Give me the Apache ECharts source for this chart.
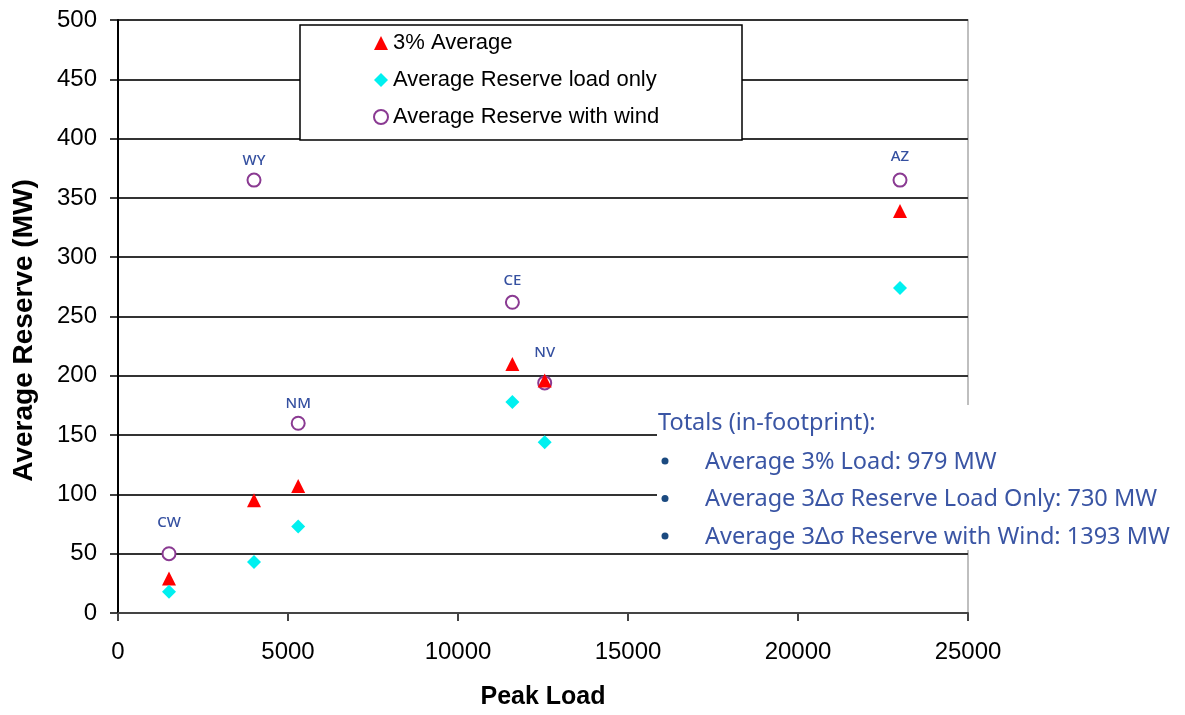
<!DOCTYPE html>
<html>
<head>
<meta charset="utf-8">
<script src="https://cdn.jsdelivr.net/npm/echarts@6/dist/echarts.min.js"></script>
<style>
  html, body { margin: 0; padding: 0; background: #fff; }
  #chart { width: 1185px; height: 715px; }
</style>
</head>
<body>
<div id="chart"></div>
<script>
const states = ['CW', 'WY', 'NM', 'CE', 'NV', 'AZ']
const peakLoad = [1500, 4000, 5300, 11600, 12550, 23000]
const avg3pct = [29, 95, 107, 210, 196, 339]
const loadOnly = [18, 43, 73, 178, 144, 274]
const withWind = [50, 365, 160, 262, 194, 365]

const totalsTitle = 'Totals (in-footprint):'
const totalsLines = [
  'Average 3% Load: 979 MW',
  'Average 3\u0394\u03c3 Reserve Load Only: 730 MW',
  'Average 3\u0394\u03c3 Reserve with Wind: 1393 MW',
]

// how far each state label sits above its circle
const labelDistance = { CW: 16, WY: 4, NM: 5, CE: 7, NV: 15, AZ: 8 }

const tickFont = { fontFamily: 'Liberation Sans', fontSize: 24, color: '#000' }
const labelBlue = '#3550a0'
const boxBlue = '#3a55a4'
const boxFont = '23.5px "Noto Sans"'

function pairs(ys) {
  return peakLoad.map((x, i) => [x, ys[i]])
}

const chart = echarts.init(document.getElementById('chart'))

const option = {
  animation: false,
  grid: {
    left: 118, right: 217, top: 20, bottom: 102,
    show: true, borderColor: '#aaa', borderWidth: 1.5,
  },
  xAxis: {
    type: 'value', min: 0, max: 25000, interval: 5000,
    name: 'Peak Load', nameLocation: 'middle', nameGap: 72,
    nameTextStyle: { fontFamily: 'Liberation Sans', fontSize: 25, fontWeight: 'bold', color: '#000' },
    axisLine: { show: true, lineStyle: { color: '#444', width: 2 } },
    axisTick: { show: true, length: 8, lineStyle: { color: '#444', width: 2 } },
    axisLabel: { ...tickFont, margin: 27, formatter: v => String(v) },
    splitLine: { show: false },
  },
  yAxis: {
    type: 'value', min: 0, max: 500, interval: 50,
    name: 'Average Reserve (MW)', nameLocation: 'middle', nameGap: 80, nameRotate: 90,
    nameTextStyle: {
      fontFamily: 'Liberation Sans', fontSize: 28, fontWeight: 'bold', color: '#000',
      padding: [0, 28, 0, 0],
    },
    axisLine: { show: true, onZero: false, lineStyle: { color: '#000', width: 2 } },
    axisTick: { show: true, length: 8, lineStyle: { color: '#000', width: 1.5 } },
    axisLabel: { ...tickFont, margin: 21 },
    splitLine: { show: true, lineStyle: { color: '#333', width: 2 } },
  },
  legend: {
    orient: 'vertical', left: 368, top: 27, itemGap: 15, z: 100,
    itemWidth: 14, itemHeight: 14,
    textStyle: { fontFamily: 'Liberation Sans', fontSize: 22, color: '#000' },
    data: [
      { name: '3% Average', icon: 'triangle' },
      { name: 'Average Reserve load only', icon: 'diamond' },
      { name: 'Average Reserve with wind', icon: 'emptyCircle' },
    ],
  },
  graphic: [
    {
      type: 'rect', z: 5,
      shape: { x: 300, y: 25, width: 442, height: 115 },
      style: { fill: '#fff', stroke: '#000', lineWidth: 1.5 },
    },
    {
      type: 'rect', z: 5,
      shape: { x: 657, y: 405, width: 528, height: 145 },
      style: { fill: '#fff' },
    },
    {
      type: 'text', z: 60, left: 658, top: 411,
      style: { text: totalsTitle, font: boxFont, fill: boxBlue },
    },
    ...totalsLines.flatMap((t, i) => [
      {
        type: 'circle', z: 60,
        shape: { cx: 665, cy: 461 + i * 37.5, r: 3.5 },
        style: { fill: '#1b4a80' },
      },
      {
        type: 'text', z: 60, left: 705, top: 450 + i * 37.5,
        style: { text: t, font: boxFont, fill: boxBlue },
      },
    ]),
  ],
  series: [
    {
      name: '3% Average', type: 'scatter', symbol: 'triangle', symbolSize: 14,
      itemStyle: { color: '#ff0000', opacity: 1 }, z: 4,
      data: pairs(avg3pct),
    },
    {
      name: 'Average Reserve load only', type: 'scatter', symbol: 'diamond', symbolSize: 14,
      itemStyle: { color: '#00f0f0', opacity: 1 }, z: 4,
      data: pairs(loadOnly),
    },
    {
      name: 'Average Reserve with wind', type: 'scatter', symbol: 'emptyCircle', symbolSize: 13,
      itemStyle: { color: '#8a3a92', borderWidth: 1.5, opacity: 1 }, z: 3,
      data: pairs(withWind).map((p, i) => ({
        value: p,
        label: {
          show: true, position: 'top',
          distance: labelDistance[states[i]],
          formatter: states[i],
          fontFamily: 'Noto Sans', fontSize: 15, fontWeight: 500, color: labelBlue,
        },
      })),
    },
  ],
}

chart.setOption(option)
</script>
</body>
</html>
